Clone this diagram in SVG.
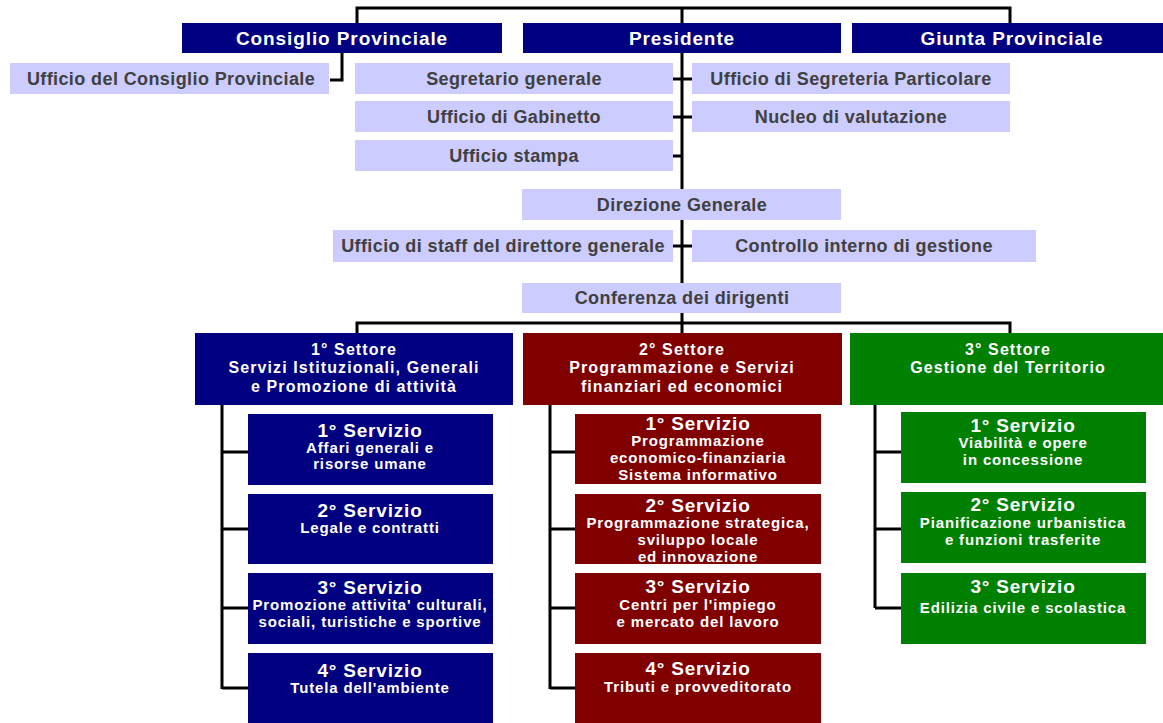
<svg xmlns="http://www.w3.org/2000/svg" width="1163" height="723" viewBox="0 0 1163 723">
<style>
text{font-family:"Liberation Sans",Arial,sans-serif;font-weight:bold;text-anchor:middle}
.navy{fill:#000080}.red{fill:#800000}.green{fill:#008000}.lav{fill:#ccccff}
.hdr{font-size:19px;fill:#fff;letter-spacing:0.9px}
.lt{font-size:18px;fill:#404040;letter-spacing:0.4px}
.sec{font-size:16px;fill:#fff;letter-spacing:1.1px}
.st{font-size:19px;fill:#fff;letter-spacing:0.8px}
.sub{font-size:15px;fill:#fff;letter-spacing:0.85px}
.ln{fill:none;stroke:#000;stroke-width:3}
</style>
<rect width="1163" height="723" fill="#fff"/>
<g id="connectors" class="ln">
<path d="M357,23 V8 H1010 V23 M682,8 V189 M673,79 H692 M673,117 H692 M673,156 H682"/>
<path d="M342,53 V80 H330"/>
<path d="M682,220 V283 M673,246 H692 M682,313 V323"/>
<path d="M357,333 V323 H1010 V333 M682,323 V333"/>
<path d="M222,405 V689 M222,452 H248 M222,529 H248 M222,608 H248 M222,688 H248"/>
<path d="M550,405 V689 M550,452 H575 M550,529 H575 M550,608 H575 M550,688 H575"/>
<path d="M875,405 V608 M875,452 H901 M875,529 H901 M875,608 H901"/>
</g>
<g id="consiglio"><rect class="navy" x="182" y="23" width="320" height="30"/><text class="hdr" x="342" y="45">Consiglio Provinciale</text></g>
<g id="presidente"><rect class="navy" x="523" y="23" width="318" height="30"/><text class="hdr" x="682" y="45">Presidente</text></g>
<g id="giunta"><rect class="navy" x="852" y="23" width="320" height="30"/><text class="hdr" x="1012" y="45">Giunta Provinciale</text></g>
<g id="uff-consiglio"><rect class="lav" x="10" y="63" width="319" height="31"/><text class="lt" x="171" y="85">Ufficio del Consiglio Provinciale</text></g>
<g id="segretario"><rect class="lav" x="355" y="63" width="318" height="31"/><text class="lt" x="514" y="85">Segretario generale</text></g>
<g id="gabinetto"><rect class="lav" x="355" y="101" width="318" height="31"/><text class="lt" x="514" y="123">Ufficio di Gabinetto</text></g>
<g id="stampa"><rect class="lav" x="355" y="140" width="318" height="31"/><text class="lt" x="514" y="162">Ufficio stampa</text></g>
<g id="segreteria"><rect class="lav" x="692" y="63" width="318" height="31"/><text class="lt" x="851" y="85">Ufficio di Segreteria Particolare</text></g>
<g id="nucleo"><rect class="lav" x="692" y="101" width="318" height="31"/><text class="lt" x="851" y="123">Nucleo di valutazione</text></g>
<g id="direzione"><rect class="lav" x="522" y="189" width="319" height="31"/><text class="lt" x="682" y="211">Direzione Generale</text></g>
<g id="staff"><rect class="lav" x="333" y="230" width="340" height="32"/><text class="lt" x="503" y="252">Ufficio di staff del direttore generale</text></g>
<g id="controllo"><rect class="lav" x="692" y="230" width="344" height="32"/><text class="lt" x="864" y="252">Controllo interno di gestione</text></g>
<g id="conferenza"><rect class="lav" x="522" y="283" width="319" height="30"/><text class="lt" x="682" y="304">Conferenza dei dirigenti</text></g>

<g id="settore1"><rect class="navy" x="195" y="333" width="318" height="72"/><text class="sec" x="354" y="355">1° Settore</text><text class="sec" x="354" y="373">Servizi Istituzionali, Generali</text><text class="sec" x="354" y="392">e Promozione di attività</text></g>
<g id="settore2"><rect class="red" x="523" y="333" width="319" height="72"/><text class="sec" x="682" y="355">2° Settore</text><text class="sec" x="682" y="373">Programmazione e Servizi</text><text class="sec" x="682" y="392">finanziari ed economici</text></g>
<g id="settore3"><rect class="green" x="850" y="333" width="318" height="72"/><text class="sec" x="1008" y="355">3° Settore</text><text class="sec" x="1008" y="373">Gestione del Territorio</text></g>

<g id="s1-1"><rect class="navy" x="248" y="414" width="245" height="71"/><text class="st" x="370" y="437">1° Servizio</text><text class="sub" x="370" y="453">Affari generali e</text><text class="sub" x="370" y="469">risorse umane</text></g>
<g id="s1-2"><rect class="navy" x="248" y="494" width="245" height="70"/><text class="st" x="370" y="517">2° Servizio</text><text class="sub" x="370" y="533">Legale e contratti</text></g>
<g id="s1-3"><rect class="navy" x="248" y="573" width="245" height="71"/><text class="st" x="370" y="594">3° Servizio</text><text class="sub" x="370" y="610">Promozione attivita' culturali,</text><text class="sub" x="370" y="627">sociali, turistiche e sportive</text></g>
<g id="s1-4"><rect class="navy" x="248" y="653" width="245" height="80"/><text class="st" x="370" y="677">4° Servizio</text><text class="sub" x="370" y="693">Tutela dell'ambiente</text></g>

<g id="s2-1"><rect class="red" x="575" y="414" width="246" height="70"/><text class="st" x="698" y="430">1° Servizio</text><text class="sub" x="698" y="446">Programmazione</text><text class="sub" x="698" y="463">economico-finanziaria</text><text class="sub" x="698" y="480">Sistema informativo</text></g>
<g id="s2-2"><rect class="red" x="575" y="494" width="246" height="70"/><text class="st" x="698" y="512">2° Servizio</text><text class="sub" x="698" y="528">Programmazione strategica,</text><text class="sub" x="698" y="545">sviluppo locale</text><text class="sub" x="698" y="562">ed innovazione</text></g>
<g id="s2-3"><rect class="red" x="575" y="573" width="246" height="71"/><text class="st" x="698" y="593">3° Servizio</text><text class="sub" x="698" y="610">Centri per l'impiego</text><text class="sub" x="698" y="627">e mercato del lavoro</text></g>
<g id="s2-4"><rect class="red" x="575" y="653" width="246" height="80"/><text class="st" x="698" y="675">4° Servizio</text><text class="sub" x="698" y="692">Tributi e provveditorato</text></g>

<g id="s3-1"><rect class="green" x="901" y="412" width="245" height="71"/><text class="st" x="1023" y="432">1° Servizio</text><text class="sub" x="1023" y="448">Viabilità e opere</text><text class="sub" x="1023" y="465">in concessione</text></g>
<g id="s3-2"><rect class="green" x="901" y="492" width="245" height="71"/><text class="st" x="1023" y="511">2° Servizio</text><text class="sub" x="1023" y="528">Pianificazione urbanistica</text><text class="sub" x="1023" y="545">e funzioni trasferite</text></g>
<g id="s3-3"><rect class="green" x="901" y="573" width="245" height="71"/><text class="st" x="1023" y="593">3° Servizio</text><text class="sub" x="1023" y="613">Edilizia civile e scolastica</text></g>
</svg>
